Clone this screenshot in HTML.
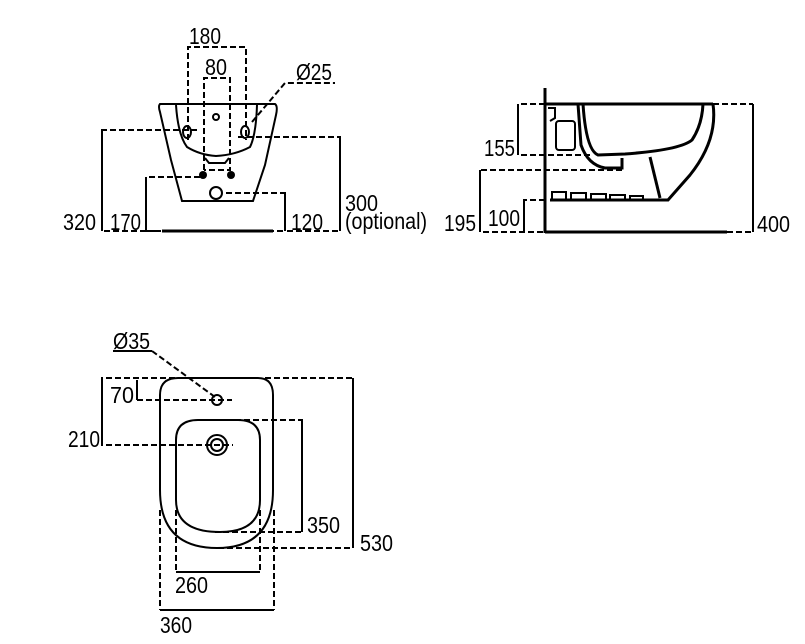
<!DOCTYPE html>
<html><head><style>body{margin:0;background:#fff}svg{display:block}</style></head><body>
<svg width="805" height="644" viewBox="0 0 805 644" xmlns="http://www.w3.org/2000/svg" font-family="'Liberation Sans Narrow','Liberation Sans',sans-serif" font-size="23" fill="none" stroke="#000">
<g stroke-width="2" stroke-dasharray="6,3">
<path d="M188,140V47H246V140"/>
<path d="M204,170V78H230V170H204"/>
<path d="M252,122L285,83H335"/>
<path d="M197,130H102V231H160"/>
<path d="M200,177H146V231H162"/>
<path d="M226,193H285V231H273"/>
<path d="M238,137H340V231H285"/>
<path d="M545,104H518V155H590"/>
<path d="M622,170H480V232H545"/>
<path d="M545,200H524V232"/>
<path d="M713,104H753"/>
<path d="M727,232H753"/>
<path d="M152,351L215,397"/>
<path d="M175,378H102V445H233"/>
<path d="M265,378H353V548H217"/>
<path d="M137,400H232"/>
<path d="M217,420H302V532H215"/>
<path d="M176,510V572M260,510V572"/>
<path d="M160,510V610M274,510V610"/>
</g>
<g stroke-width="2">
<path d="M160,104H275Q278,106 276,115L265,165L253,201H182L171,160L160,112Q158,106 160,104Z"/>
<path d="M176,105Q178,135 187,147Q200,155 216,156Q235,155 250,147Q256,135 257,105"/>
<path d="M205,158L209,163H225L229,158"/>
<circle cx="216" cy="117" r="3"/>
<ellipse cx="187" cy="132" rx="4" ry="6"/><ellipse cx="245" cy="132" rx="4" ry="6"/>
<circle cx="216" cy="193" r="6"/>
<path d="M102,231V130M146,231V177M285,231V193M340,231V137"/>
<path d="M162,231H273" stroke-width="3"/>
<path d="M545,88V233" stroke-width="3"/>
<path d="M545,104H713" stroke-width="3"/>
<path d="M545,232H727" stroke-width="3"/>
<path d="M753,104V232M518,104V155M480,170V232M524,200V232"/>
<path d="M713,104Q718,140 690,175L668,200H550" stroke-width="3"/>
<path d="M583,104Q586,150 598,155L625,154Q680,150 692,140Q702,125 703,104" stroke-width="3"/>
<path d="M578,104L581,145Q588,165 605,168H622V158" stroke-width="3"/>
<path d="M650,157L660,198" stroke-width="3"/>
<rect x="556" y="121" width="19" height="29" rx="3"/>
<path d="M548,108H555V118L550,121"/>
<path d="M552,200V192H566V200M571,200V193H586V200M591,200V194H606V200M610,200V195H625V200M630,200V196H643V200"/>
<path d="M113,351H152"/>
<path d="M178,378H258Q273,378 273,395V490Q273,548 217,548Q160,548 160,490V395Q160,378 178,378Z"/>
<path d="M198,420H238Q260,420 260,440V500Q260,532 220,532Q176,532 176,500V440Q176,420 198,420Z"/>
<circle cx="217" cy="400" r="5"/>
<circle cx="217" cy="445" r="10"/><circle cx="217" cy="445" r="6"/>
<path d="M102,378V445M137,380V400M302,420V532M353,378V548"/>
<path d="M176,572H260M160,610H274"/>
</g>
<g fill="#000" stroke="none">
<text x="189" y="44" textLength="32" lengthAdjust="spacingAndGlyphs">180</text>
<text x="205" y="75" textLength="22" lengthAdjust="spacingAndGlyphs">80</text>
<text x="296" y="80" textLength="36" lengthAdjust="spacingAndGlyphs">Ø25</text>
<text x="63" y="230" textLength="33" lengthAdjust="spacingAndGlyphs">320</text>
<text x="110" y="230" textLength="31" lengthAdjust="spacingAndGlyphs">170</text>
<text x="291" y="230" textLength="32" lengthAdjust="spacingAndGlyphs">120</text>
<text x="345" y="211" textLength="33" lengthAdjust="spacingAndGlyphs">300</text>
<text x="345" y="229" textLength="82" lengthAdjust="spacingAndGlyphs">(optional)</text>
<text x="484" y="156" textLength="31" lengthAdjust="spacingAndGlyphs">155</text>
<text x="444" y="231" textLength="32" lengthAdjust="spacingAndGlyphs">195</text>
<text x="488" y="226" textLength="32" lengthAdjust="spacingAndGlyphs">100</text>
<text x="757" y="232" textLength="33" lengthAdjust="spacingAndGlyphs">400</text>
<text x="113" y="349" textLength="37" lengthAdjust="spacingAndGlyphs">Ø35</text>
<text x="110" y="403" textLength="24" lengthAdjust="spacingAndGlyphs">70</text>
<text x="68" y="447" textLength="32" lengthAdjust="spacingAndGlyphs">210</text>
<text x="307" y="533" textLength="33" lengthAdjust="spacingAndGlyphs">350</text>
<text x="360" y="551" textLength="33" lengthAdjust="spacingAndGlyphs">530</text>
<text x="175" y="593" textLength="33" lengthAdjust="spacingAndGlyphs">260</text>
<text x="160" y="633" textLength="32" lengthAdjust="spacingAndGlyphs">360</text>
</g>
<circle cx="203" cy="175" r="4" fill="#000" stroke="none"/><circle cx="231" cy="175" r="4" fill="#000" stroke="none"/>
</svg>
</body></html>
